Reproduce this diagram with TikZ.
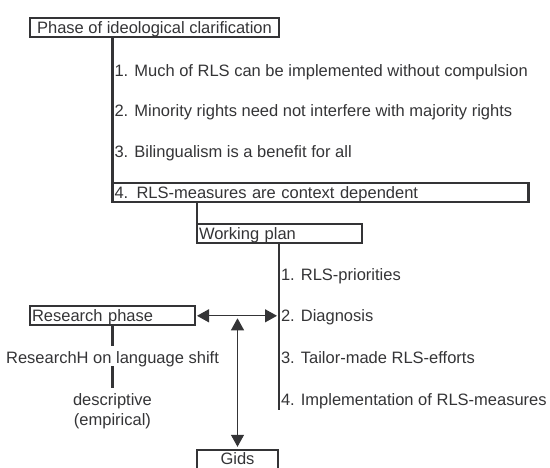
\documentclass[tikz,border=0pt]{standalone}
\usepackage{fontspec}
\setmainfont{Liberation Sans}
\usetikzlibrary{positioning, arrows.meta}
\definecolor{ink}{RGB}{52,52,54}

\begin{document}
\begin{tikzpicture}[x=1pt, y=-1pt,
	every node/.style={font=\fontsize{16.5}{18.5}\selectfont, text=ink},
	box/.style={rectangle, draw=ink, line width=2.2pt, outer sep=0pt, inner xsep=2pt, inner ysep=0pt, text height=12pt, text depth=0pt, minimum height=19pt, align=left},
	item/.style={anchor=west, outer sep=0pt, inner xsep=2pt, inner ysep=0pt, text height=12pt, text depth=0pt},
	spine/.style={draw=ink, line width=2.7pt},
	link/.style={draw=ink, line width=2.2pt},
	arr/.style={{Triangle[length=12pt, width=13pt]}-{Triangle[length=12pt, width=13pt]}, draw=ink, line width=1.1pt}
	]
\useasboundingbox (0,0) rectangle (550,467);

\node[box, minimum width=249pt, align=center] (phase) at (154.5,27.5) {Phase of ideological clarification};

\node[item] (idea1) at (112.5,70.1) {1. Much of RLS can be implemented without compulsion};
\node[item] (idea2) at ([yshift=-40.8pt]idea1.west) {2. Minority rights need not interfere with majority rights};
\node[item] (idea3) at ([yshift=-40.8pt]idea2.west) {3. Bilingualism is a benefit for all};
\node[box, text width=412pt, anchor=west] (rlsbox) at ([yshift=-40.8pt]idea3.west) {4. RLS-measures are context dependent};

\node[box, text width=161pt, below right=22pt and 84.5pt of rlsbox.south west] (plan) {Working plan};

\node[item] (plan1) at ([xshift=82pt, yshift=-40.5pt]plan.west) {1. RLS-priorities};
\node[item] (plan2) at ([yshift=-41.8pt]plan1.west) {2. Diagnosis};
\node[item] (plan3) at ([yshift=-41.8pt]plan2.west) {3. Tailor-made RLS-efforts};
\node[item] (plan4) at ([yshift=-41.8pt]plan3.west) {4. Implementation of RLS-measures};
\coordinate (planend) at ([yshift=-10.6pt]plan4.west);

\node[box, text width=161pt, left=84pt of plan2.west] (research) {Research phase};
\node[below=21pt of research, text height=14pt, text depth=0pt, inner ysep=3pt, outer sep=0pt] (shift) {ResearchH on language shift};
\node[below=22pt of shift, align=center, font=\fontsize{16.5}{20.5}\selectfont, inner ysep=5pt, outer sep=0pt] (desc) {descriptive\\(empirical)};

\node[box, minimum width=81pt, align=center, text depth=2pt, below right=124.5pt and 2pt of research.south east] (gids) {Gids};
\coordinate (cross) at (gids.north |- research.east);

\draw[spine] (phase.south -| rlsbox.west) -- (rlsbox.north west);
\draw[link] (rlsbox.south -| plan.west) -- (plan.north west);
\draw[spine] (plan.south -| plan1.west) -- (planend);
\draw[link] (research) -- (shift);
\draw[link] (shift) -- (desc);

\draw[arr, shorten <=2pt, shorten >=2pt] (research.east) -- (plan2.west);
\draw[arr, shorten <=2.5pt, shorten >=3pt] (cross) -- (gids.north);

\end{tikzpicture}
\end{document}
